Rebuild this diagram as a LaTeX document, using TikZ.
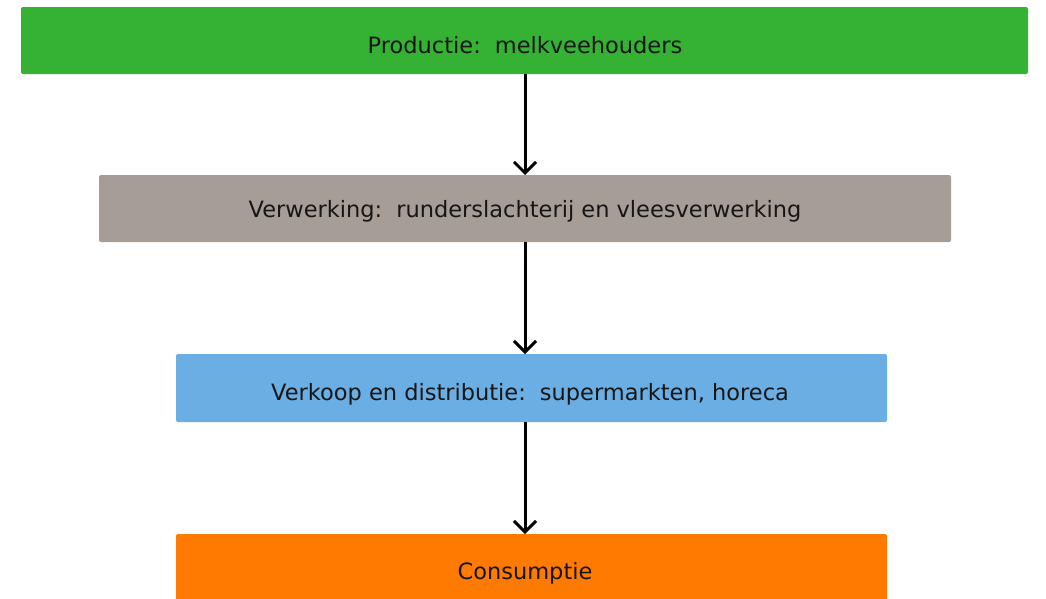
\documentclass[tikz,border=0pt]{standalone}
\usepackage{fontspec}
\setmainfont{DejaVu Sans}
\usetikzlibrary{arrows.meta}
\definecolor{cgreen}{HTML}{35B234}
\definecolor{cgray}{HTML}{A69D96}
\definecolor{cblue}{HTML}{6AAEE4}
\definecolor{corange}{HTML}{FF7A00}
\definecolor{ctext}{HTML}{161616}
\begin{document}
\begin{tikzpicture}[x=1pt,y=-1pt,
  stagebox/.style={rounded corners=2pt,inner sep=0pt,text=ctext,font=\fontsize{22.5}{26}\selectfont},
  flow/.style={line width=3pt,-{Straight Barb[length=11pt,width=22pt,line width=3pt]}}]
\useasboundingbox (0,0) rectangle (1046,598);
\fill[cgreen,rounded corners=2pt] (21,7) rectangle (1028,74);
\coordinate (gb) at (525,74);
\node[stagebox] (p) at (525,45) {Productie:\hspace{0.2em} melkveehouders};
\fill[cgray,rounded corners=2pt] (99,175) rectangle (951,242);
\coordinate (vt) at (525,175);
\coordinate (vb) at (525,242);
\node[stagebox] (v) at (525,211) {Verwerking:\hspace{0.2em} runderslachterij en vleesverwerking};
\fill[cblue,rounded corners=2pt] (176,354) rectangle (887,422);
\coordinate (kt) at (525,354);
\coordinate (kb) at (525,422);
\node[stagebox] (k) at (530,394) {Verkoop en distributie:\hspace{0.2em} supermarkten, horeca};
\fill[corange,rounded corners=2pt] (176,534) rectangle (887,610);
\coordinate (ct) at (525,534);
\node[stagebox] (c) at (525,573) {Consumptie};
\draw[flow] (gb) -- (vt);
\draw[flow] (vb) -- (kt);
\draw[flow] (kb) -- (ct);
\end{tikzpicture}
\end{document}
